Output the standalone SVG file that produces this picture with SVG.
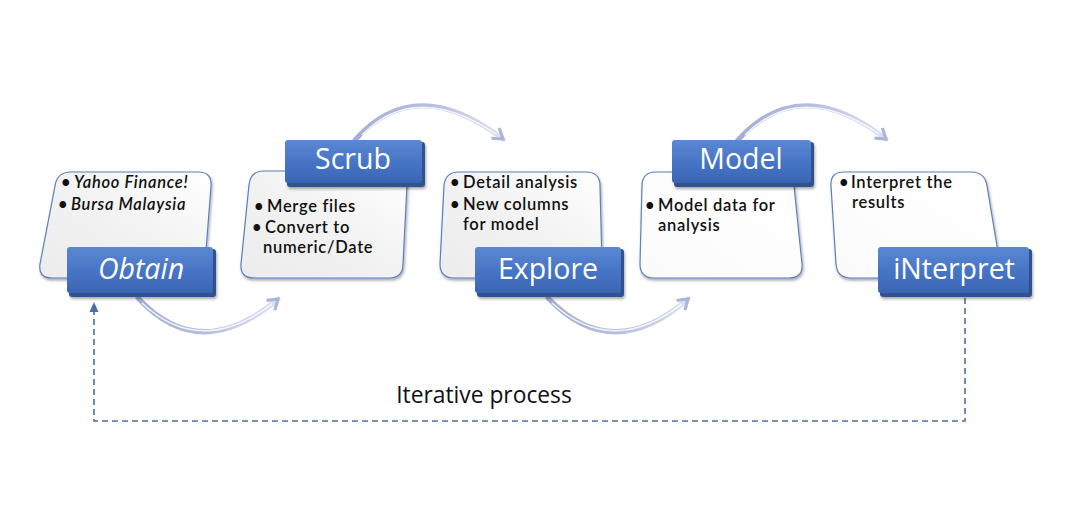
<svg xmlns="http://www.w3.org/2000/svg" width="1080" height="525" viewBox="0 0 1080 525">
<style>
.card{stroke:#5b7fc0;stroke-width:1.2}
.ct{font-family:Lato,"Open Sans","Liberation Sans",sans-serif;font-size:16.5px;font-weight:600;fill:#111;letter-spacing:0.7px}
.ci{font-style:italic}
.lb{font-family:"Open Sans","Liberation Sans",sans-serif;font-size:28.5px;fill:#fff}
.arc{fill:none;stroke:url(#arcg);stroke-width:5;stroke-linecap:round}
.arch{fill:none;stroke:#fff;stroke-width:1.5;opacity:.85}
.dash{fill:none;stroke:#4a6fa5;stroke-width:1.6;stroke-dasharray:6 4}
</style>
<defs>
<linearGradient id="lbg" x1="0" y1="0" x2="0" y2="1">
<stop offset="0" stop-color="#5b88d2"/><stop offset="0.6" stop-color="#4472c4"/><stop offset="1" stop-color="#3b65b2"/>
</linearGradient>
<linearGradient id="cg1" x1="1" y1="0" x2="0" y2="1">
<stop offset="0" stop-color="#ffffff"/><stop offset="0.5" stop-color="#f2f2f2"/><stop offset="1" stop-color="#ececec"/>
</linearGradient>
<linearGradient id="cg2" x1="1" y1="0" x2="0" y2="1">
<stop offset="0" stop-color="#ffffff"/><stop offset="1" stop-color="#fbfbfb"/>
</linearGradient>
<linearGradient id="arcg" x1="0" y1="0" x2="1" y2="0">
<stop offset="0" stop-color="#a3afd2"/><stop offset="0.5" stop-color="#b5bfdd"/><stop offset="1" stop-color="#dde2ef"/>
</linearGradient>
<filter id="sh" x="-10%" y="-10%" width="130%" height="130%">
<feGaussianBlur in="SourceAlpha" stdDeviation="1.5"/><feOffset dx="1" dy="2"/>
<feComponentTransfer><feFuncA type="linear" slope="0.35"/></feComponentTransfer>
<feMerge><feMergeNode/><feMergeNode in="SourceGraphic"/></feMerge>
</filter>
<marker id="chev" viewBox="0 0 10 10" refX="7" refY="5" markerWidth="3.2" markerHeight="3.2" orient="auto" markerUnits="strokeWidth">
<path d="M1,1 L7,5 L1,9" fill="none" stroke="#aab6d6" stroke-width="2"/>
</marker>
<marker id="tri" viewBox="0 0 10 10" refX="2" refY="5" markerWidth="10" markerHeight="10" orient="auto" markerUnits="userSpaceOnUse">
<path d="M0,0.5 L10,5 L0,9.5 Z" fill="#4a6fa5"/>
</marker>
</defs>
<rect width="1080" height="525" fill="#fff"/>

<g id="connectors">
<path class="arc" d="M138,298 Q200,365 278,299" marker-end="url(#chev)"/>
<path class="arch" d="M142,303 Q200,358 272,304"/>
<path class="arc" d="M355,140 Q415,72 503,139" marker-end="url(#chev)"/>
<path class="arch" d="M362,135 Q415,80 496,134"/>
<path class="arc" d="M548,298 Q612,365 688,299" marker-end="url(#chev)"/>
<path class="arch" d="M552,303 Q612,358 682,304"/>
<path class="arc" d="M738,140 Q800,72 886,139" marker-end="url(#chev)"/>
<path class="arch" d="M745,135 Q800,80 879,134"/>
<path class="dash" d="M965,298 V421 H94 V310" marker-end="url(#tri)"/>
<text x="484" y="403" text-anchor="middle" font-family="Open Sans, Liberation Sans, sans-serif" font-size="22.8" fill="#111">Iterative process</text>
</g>

<g id="obtain">
<path class="card" filter="url(#sh)" fill="url(#cg1)" d="M71,172 H198 Q212,172 211,186 L205,264 Q204,278 190,278 H52 Q38,278 40,264 L55,186 Q57,172 71,172 Z"/>
<text class="ct ci" x="61" y="188">•</text><text class="ct ci" x="74" y="188">Yahoo Finance!</text>
<text class="ct ci" x="58" y="210">•</text><text class="ct ci" x="71" y="210">Bursa Malaysia</text>
<rect x="69" y="249" width="147" height="48" rx="3" fill="#2f528f" filter="url(#sh)"/>
<rect x="67" y="247" width="146" height="46" rx="3" fill="url(#lbg)"/>
<text class="lb" x="141" y="279" text-anchor="middle" font-style="italic" font-size="30">Obtain</text>
</g>

<g id="scrub">
<path class="card" filter="url(#sh)" fill="url(#cg1)" d="M264,171 H393 Q407,171 407,185 L403,264 Q403,278 389,278 H254 Q240,278 241,264 L249,185 Q250,171 264,171 Z"/>
<text class="ct" x="254" y="212">•</text><text class="ct" x="267" y="212">Merge files</text>
<text class="ct" x="252" y="233">•</text><text class="ct" x="265" y="233">Convert to</text>
<text class="ct" x="263" y="253">numeric/Date</text>
<rect x="287" y="142" width="138" height="45" rx="3" fill="#2f528f" filter="url(#sh)"/>
<rect x="285" y="140" width="137" height="43" rx="3" fill="url(#lbg)"/>
<text class="lb" x="353" y="169" text-anchor="middle">Scrub</text>
</g>

<g id="explore">
<path class="card" filter="url(#sh)" fill="url(#cg1)" d="M459,172 H586 Q600,172 600,186 L602,264 Q602,278 588,278 H454 Q440,278 440,264 L444,186 Q445,172 459,172 Z"/>
<text class="ct" x="450" y="188">•</text><text class="ct" x="463" y="188">Detail analysis</text>
<text class="ct" x="450" y="210">•</text><text class="ct" x="463" y="210">New columns</text>
<text class="ct" x="463" y="230">for model</text>
<rect x="477" y="249" width="147" height="48" rx="3" fill="#2f528f" filter="url(#sh)"/>
<rect x="475" y="247" width="146" height="46" rx="3" fill="url(#lbg)"/>
<text class="lb" x="548" y="279" text-anchor="middle">Explore</text>
</g>

<g id="model">
<path class="card" filter="url(#sh)" fill="url(#cg2)" d="M656,172 H779 Q793,172 794,186 L802,264 Q803,278 789,278 H654 Q640,278 640,264 L642,186 Q642,172 656,172 Z"/>
<text class="ct" x="645" y="211">•</text><text class="ct" x="658" y="211">Model data for</text>
<text class="ct" x="658" y="231">analysis</text>
<rect x="674" y="142" width="140" height="45" rx="3" fill="#2f528f" filter="url(#sh)"/>
<rect x="672" y="140" width="139" height="43" rx="3" fill="url(#lbg)"/>
<text class="lb" x="741" y="169" text-anchor="middle">Model</text>
</g>

<g id="interpret">
<path class="card" filter="url(#sh)" fill="url(#cg2)" d="M844,172 H971 Q985,172 987,186 L1000,264 Q1002,278 988,278 H851 Q837,278 836,264 L831,186 Q830,172 844,172 Z"/>
<text class="ct" x="839" y="188">•</text><text class="ct" x="851" y="188">Interpret  the</text>
<text class="ct" x="852" y="208">results</text>
<rect x="880" y="249" width="152" height="48" rx="3" fill="#2f528f" filter="url(#sh)"/>
<rect x="878" y="247" width="151" height="46" rx="3" fill="url(#lbg)"/>
<text class="lb" x="954" y="279" text-anchor="middle">iNterpret</text>
</g>
</svg>
